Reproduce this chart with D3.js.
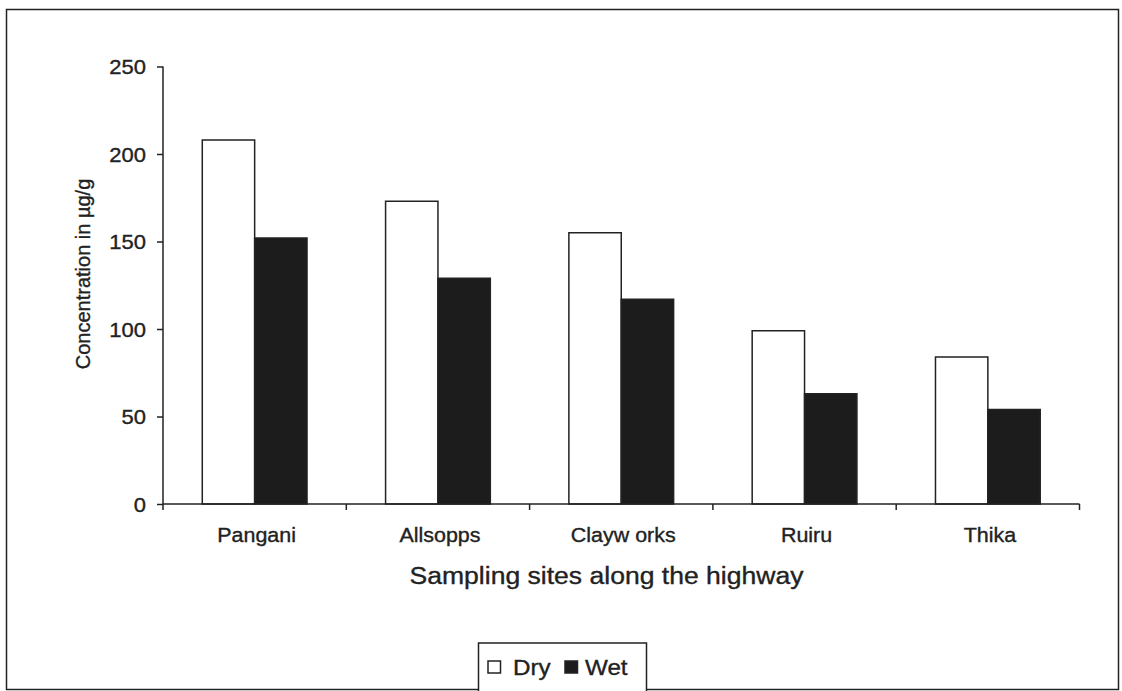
<!DOCTYPE html>
<html><head><meta charset="utf-8">
<script src="https://cdn.jsdelivr.net/npm/d3@7"></script>
<style>body{margin:0;background:#fff}svg{display:block}text{font-family:"Liberation Sans",Arial,sans-serif;fill:#222;stroke:#222;stroke-width:0.35px}</style>
</head><body>
<svg id="c" width="1122" height="691"></svg>
<script>
const categories = ["Pangani","Allsopps","Clayw orks","Ruiru","Thika"];
const seriesNames = ["Dry","Wet"];
const dryValues = [208,173,155,99,84];
const wetValues = [152,129,117,63,54];
const yTicks = [0,50,100,150,200,250];

const SX = 1.1;
const svg = d3.select("#c");
const ink = "#222";
svg.append("rect").attr("x",6.5).attr("y",9.5).attr("width",1112).attr("height",680)
  .attr("fill","#fff").attr("stroke",ink).attr("stroke-width",1.5);

const x0 = d3.scaleBand().domain(categories).range([163,1079.5]).paddingInner(0).paddingOuter(0);
const x1 = d3.scaleBand().domain(seriesNames).range([0,x0.bandwidth()]).paddingOuter(0.75).paddingInner(0);
const y = d3.scaleLinear().domain([0,250]).range([504,66.5]);

const data = categories.map((c,i)=>({c, vals:[{k:"Dry",v:dryValues[i]},{k:"Wet",v:wetValues[i]}]}));
const fills = {Dry:"#fff", Wet:"#1c1c1c"};

const g = svg.append("g");
g.selectAll("g.grp").data(data).join("g").attr("transform",d=>`translate(${x0(d.c)},0)`)
  .selectAll("rect").data(d=>d.vals).join("rect")
  .attr("x",d=>x1(d.k)).attr("width",x1.bandwidth())
  .attr("y",d=>y(d.v)).attr("height",d=>y(0)-y(d.v))
  .attr("fill",d=>fills[d.k]).attr("stroke",ink).attr("stroke-width",1.5);

// y axis
const ya = svg.append("g").attr("transform","translate(163,0)")
  .call(d3.axisLeft(y).tickValues(yTicks).tickSize(6));
ya.select(".domain").attr("stroke",ink).attr("stroke-width",1.5).attr("d","M0,"+y(250)+"V"+y(0));
ya.selectAll(".tick line").attr("stroke",ink).attr("stroke-width",1.5);
ya.selectAll("text").attr("font-size",20).attr("fill",ink).attr("x",-15.5).attr("dy","0.36em")
  .attr("transform",`scale(${SX},1)`);

// x axis
const xa = svg.append("g").attr("transform",`translate(0,${y(0)})`);
xa.append("line").attr("x1",x0.range()[0]).attr("x2",x0.range()[1]).attr("stroke",ink).attr("stroke-width",1.5);
const bounds = categories.map(c=>x0(c)).concat([x0.range()[1]]);
xa.selectAll("line.t").data(bounds).join("line").attr("class","t")
  .attr("x1",d=>d).attr("x2",d=>d).attr("y1",0).attr("y2",6).attr("stroke",ink).attr("stroke-width",1.5);
xa.selectAll("text").data(categories).join("text")
  .attr("transform",d=>`translate(${x0(d)+x0.bandwidth()/2+2},37.5) scale(${SX},1)`)
  .attr("text-anchor","middle").attr("font-size",19.5).text(d=>d);

svg.append("text").attr("transform",`translate(606.5,584) scale(${SX+0.03},1)`).attr("text-anchor","middle").attr("font-size",23.5)
  .text("Sampling sites along the highway");
svg.append("text").attr("transform","translate(90,274) rotate(-90)").attr("text-anchor","middle")
  .attr("font-size",20).text("Concentration in µg/g");

// legend
const lg = svg.append("g");
lg.append("rect").attr("x",478.5).attr("y",643).attr("width",168).attr("height",52)
  .attr("fill","#fff").attr("stroke",ink).attr("stroke-width",1.5);
const items = [{k:"Dry",x:488,tx:513},{k:"Wet",x:565,tx:585}];
items.forEach(it=>{
  lg.append("rect").attr("x",it.x).attr("y",661).attr("width",12.5).attr("height",12)
    .attr("fill",fills[it.k]).attr("stroke",ink).attr("stroke-width",1.5);
  lg.append("text").attr("transform",`translate(${it.tx},675) scale(${SX},1)`).attr("font-size",22).text(it.k);
});
</script>
</body></html>
